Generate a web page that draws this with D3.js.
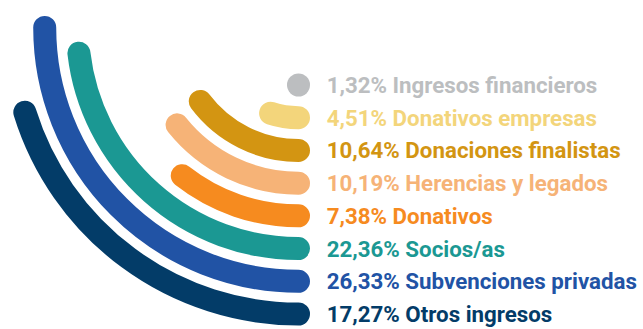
<!DOCTYPE html>
<html>
<head>
<meta charset="utf-8">
<script src="https://cdn.jsdelivr.net/npm/d3@7"></script>
<style>
  html, body { margin: 0; padding: 0; background: #ffffff; }
  svg { display: block; }
  .label { font-family: Roboto, "Noto Sans", sans-serif; font-weight: 700; font-size: 22.3px; }
</style>
</head>
<body>
<svg id="chart" width="643" height="329"></svg>
<script>
// Income sources, listed from the innermost ring outwards
const categories = [
  "Ingresos financieros",
  "Donativos empresas",
  "Donaciones finalistas",
  "Herencias y legados",
  "Donativos",
  "Socios/as",
  "Subvenciones privadas",
  "Otros ingresos"
];
const shares = [1.32, 4.51, 10.64, 10.19, 7.38, 22.36, 26.33, 17.27];
const colors = [
  "#bcbec0",
  "#f3d57b",
  "#d39512",
  "#f6b377",
  "#f68b1f",
  "#1b9893",
  "#2153a5",
  "#033c68"
];

const width = 643, height = 329;
const cx = 298.5, cy = 27.5;          // common centre of the rings
const band = 23;                       // ring thickness

const svg = d3.select("#chart");

// ring radius per category
const radius = d3.scaleLinear()
  .domain([0, categories.length - 1])
  .range([57.5, 286.5]);

// sweep of each ring, measured from the bottom of the circle towards the left
const sweep = d3.scaleLog()
  .domain([2.9, d3.max(shares)])
  .range([0, Math.PI / 2])
  .clamp(true);

const fmt = v => d3.format(".2f")(v).replace(".", ",") + "%";

const rows = categories.map((name, i) => ({
  name, value: shares[i], color: colors[i], r: radius(i)
}));

function ringPath(d) {
  const p = d3.path();
  const a0 = Math.PI / 2;              // bottom of the circle (canvas angle)
  p.arc(cx, cy, d.r, a0 + sweep(d.value), a0, true);
  p.lineTo(cx, cy + d.r);
  return p.toString();
}

svg.append("g")
  .selectAll("path")
  .data(rows)
  .join("path")
    .attr("d", ringPath)
    .attr("fill", "none")
    .attr("stroke", d => d.color)
    .attr("stroke-width", band)
    .attr("stroke-linecap", "round");

svg.append("g")
  .selectAll("text")
  .data(rows)
  .join("text")
    .attr("class", "label")
    .attr("x", cx + 28.2)
    .attr("y", d => cy + d.r)
    .attr("dy", "0.36em")
    .attr("fill", d => d.color)
    .text(d => `${fmt(d.value)} ${d.name}`);
</script>
</body>
</html>
